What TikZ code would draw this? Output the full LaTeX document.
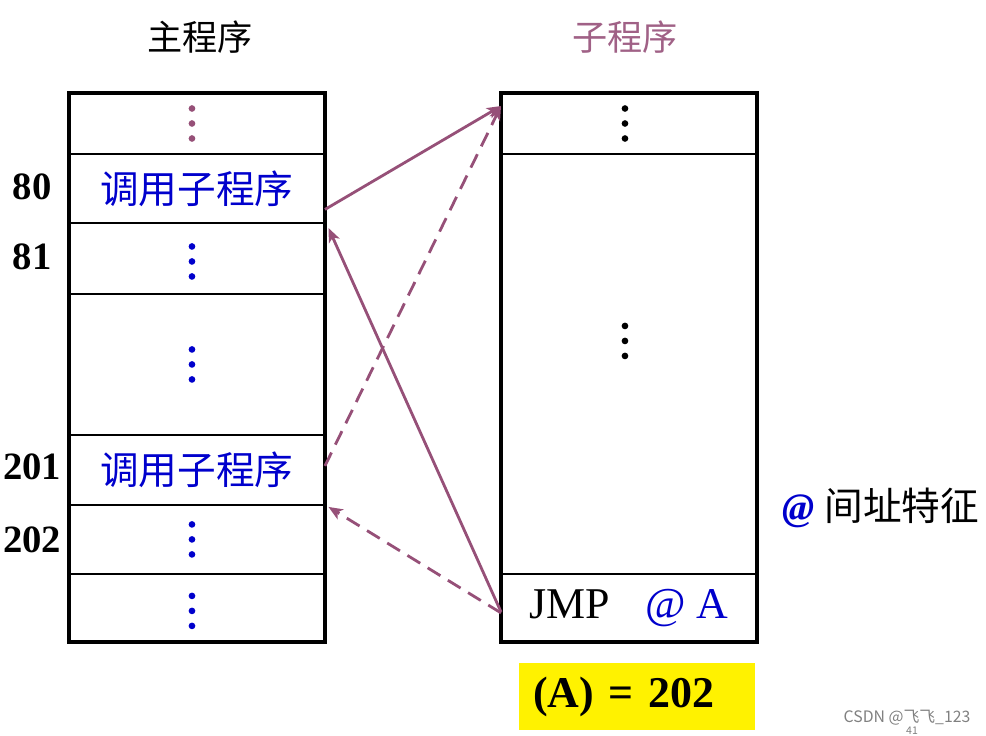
\documentclass[tikz,border=0pt]{standalone}
\usepackage{fontspec}
\setmainfont{Liberation Serif}
\newfontfamily\cjk{Noto Sans CJK SC}
\usetikzlibrary{positioning,calc,arrows.meta}
\definecolor{linkc}{RGB}{150,80,120}
\definecolor{codeblue}{RGB}{0,0,204}
\newcommand{\threedots}[2]{%
  \foreach \dy in {-15,0,15} \fill[#2] ($(#1)+(0,\dy)$) circle (1.9pt);}

\begin{document}
\begin{tikzpicture}[x=0.02cm,y=-0.02cm,node distance=0pt]
  \tikzstyle{cell}=[draw,line width=0.8pt,minimum width=5.12cm,inner sep=0pt,outer sep=0pt]
  \tikzstyle{call}=[font=\cjk\fontsize{22}{26}\selectfont,text=codeblue]
  \tikzstyle{addr}=[font=\bfseries\fontsize{22}{26}\selectfont]
  \tikzstyle{link}=[draw=linkc,line width=1.6pt,-{Stealth[length=8pt,width=6.5pt,inset=2pt]}]
  \tikzstyle{back}=[link,dash pattern=on 8.5pt off 5pt]
  \useasboundingbox (0,0) rectangle (986,736);
  \node[font=\cjk\fontsize{20}{24}\selectfont] (tmain) at (200,37) {主程序};
  \node[font=\cjk\fontsize{20}{24}\selectfont,text=linkc!90] (tsub) at (625,37) {子程序};
  % main program
  \node[cell,minimum height=1.22cm,anchor=north west] (m0) at (69,93) {};
  \node[cell,minimum height=1.38cm,below=of m0,call] (m1) {调用子程序};
  \node[cell,minimum height=1.42cm,below=of m1] (m2) {};
  \node[cell,minimum height=2.82cm,below=of m2] (m3) {};
  \node[cell,minimum height=1.40cm,below=of m3,call] (m4) {调用子程序};
  \node[cell,minimum height=1.38cm,below=of m4] (m5) {};
  \node[cell,minimum height=1.36cm,below=of m5] (m6) {};
  \draw[line width=2.1pt] (m0.north west) rectangle (m6.south east);
  \threedots{$(m0.center)+(-5,0)$}{linkc}
  \threedots{$(m2.center)+(-5,3)$}{codeblue}
  \threedots{$(m3.center)+(-5,0)$}{codeblue}
  \threedots{$(m5.center)+(-5,0)$}{codeblue}
  \threedots{$(m6.center)+(-5,3)$}{codeblue}
  \node[addr] (a80) at (32,187) {80};
  \node[addr] (a81) at (32,257) {81};
  \node[addr] (a201) at (32,467) {201};
  \node[addr] (a202) at (32,540) {202};
  % subroutine
  \node[cell,minimum height=1.22cm,anchor=north west] (s0) at (501,93) {};
  \node[cell,minimum height=8.40cm,below=of s0] (s1) {};
  \node[cell,minimum height=1.36cm,below=of s1,font=\fontsize{25}{30}\selectfont] (s2) {JMP\hspace{0.8em}\textcolor{codeblue}{@ A}};
  \draw[line width=2.1pt] (s0.north west) rectangle (s2.south east);
  \threedots{$(s0.center)+(-4,0)$}{black}
  \threedots{$(s1.center)+(-4,-23)$}{black}
  \node[fill=yellow,anchor=north west,inner xsep=0.28cm,text width=4.16cm,align=left,minimum height=1.34cm,font=\bfseries\fontsize{25}{30}\selectfont] (aval) at (519,663) {(A) = 202};
  \node[font=\fontsize{22}{26}\selectfont] (feat) at (881,508) {\textcolor{codeblue}{\bfseries\itshape @} {\cjk 间址特征}};
  % links
  \draw[link] ([yshift=-0.42cm]m1.east) -- ([yshift=0.35cm]s0.west);
  \draw[back] ([yshift=0.08cm]m4.east) -- ([yshift=0.35cm]s0.west);
  \draw[link] ([yshift=-0.08cm]s2.west) -- ([yshift=-0.1cm,xshift=2pt]m2.north east);
  \draw[back] ([yshift=-0.1cm]s2.west) -- ([yshift=-0.04cm,xshift=2pt]m5.north east);
  \node[text=gray,font=\cjk\fontsize{9}{10}\selectfont] (mark) at (907,718) {CSDN @飞飞\_123};
  \node[text=gray,font=\cjk\fontsize{6}{7}\selectfont] (pg) at (912,731) {41};
\end{tikzpicture}
\end{document}
